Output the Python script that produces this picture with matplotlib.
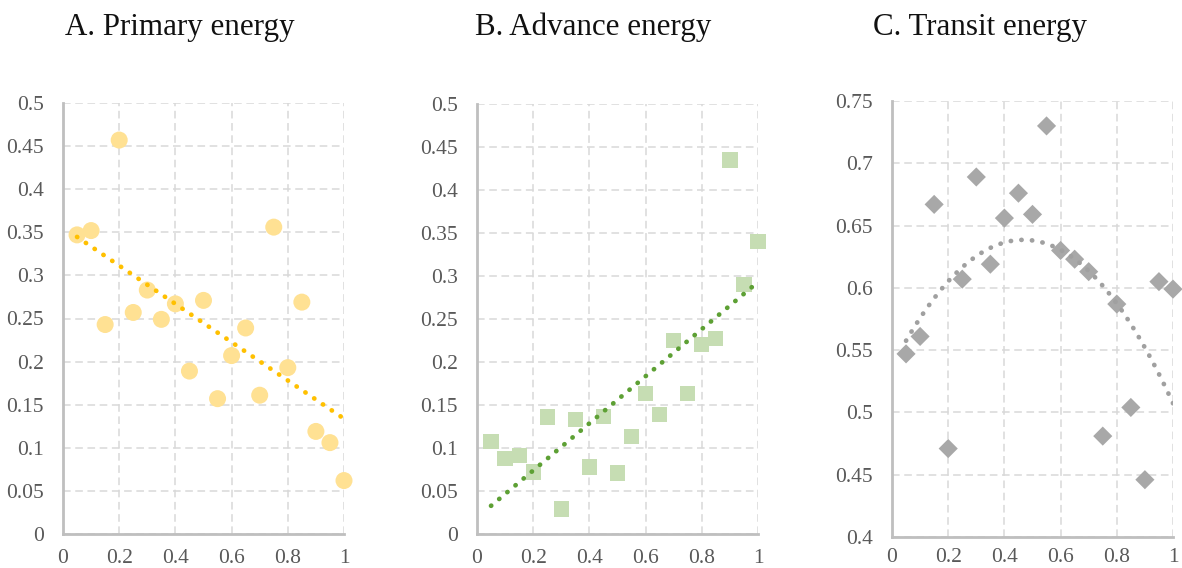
"""
Three scatter panels with Excel-style trendlines:
 A. Primary energy (linear), B. Advance energy (linear), C. Transit energy (poly 2)
"""
import numpy as np
import matplotlib
matplotlib.use("Agg")
import matplotlib.pyplot as plt

# ---------------------------------------------
# Data
# ---------------------------------------------
x_vals = [0.05, 0.10, 0.15, 0.20, 0.25, 0.30, 0.35, 0.40, 0.45, 0.50,
          0.55, 0.60, 0.65, 0.70, 0.75, 0.80, 0.85, 0.90, 0.95, 1.00]

primary = [0.347, 0.352, 0.243, 0.457, 0.257, 0.283, 0.249, 0.267, 0.189, 0.271,
           0.157, 0.207, 0.239, 0.161, 0.356, 0.193, 0.269, 0.119, 0.106, 0.062]

advance = [0.108, 0.088, 0.091, 0.072, 0.136, 0.029, 0.133, 0.078, 0.137, 0.071,
           0.113, 0.163, 0.139, 0.225, 0.163, 0.220, 0.227, 0.435, 0.290, 0.340]

transit = [0.547, 0.561, 0.667, 0.471, 0.607, 0.689, 0.619, 0.656, 0.676, 0.659,
           0.730, 0.630, 0.623, 0.613, 0.481, 0.587, 0.504, 0.446, 0.605, 0.599]

titles = ["A. Primary energy", "B. Advance energy", "C. Transit energy"]
x_ticks = [0, 0.2, 0.4, 0.6, 0.8, 1]
x_labels = ["0", "0.2", "0.4", "0.6", "0.8", "1"]
y_ticks_ab = [0, 0.05, 0.1, 0.15, 0.2, 0.25, 0.3, 0.35, 0.4, 0.45, 0.5]
y_labels_ab = ["0", "0.05", "0.1", "0.15", "0.2", "0.25", "0.3", "0.35", "0.4", "0.45", "0.5"]
y_ticks_c = [0.4, 0.45, 0.5, 0.55, 0.6, 0.65, 0.7, 0.75]
y_labels_c = ["0.4", "0.45", "0.5", "0.55", "0.6", "0.65", "0.7", "0.75"]

plt.rcParams['font.family'] = ['Liberation Serif', 'DejaVu Serif']

fig = plt.figure(figsize=(11.82, 5.68), dpi=100)

# axes boxes in pixels: left, right, top, bottom
W, H = 1182, 568
boxes = [(63, 344, 103, 534), (477, 758, 104, 534), (892, 1173, 101, 537)]
title_x = [180, 593, 980]
xpads = [11, 11, 8]

panels = [
    (primary, 'o', 150, '#FFE193', '#FFC000', 1, y_ticks_ab, y_labels_ab, (0, 0.5)),
    (advance, 's', 120, '#C6DDB3', '#5DA034', 1, y_ticks_ab, y_labels_ab, (0, 0.5)),
    (transit, 'D', 95, '#A8A8A8', '#A0A0A0', 2, y_ticks_c, y_labels_c, (0.4, 0.75)),
]

x = np.array(x_vals)
for i, (ys, mk, size, col, tcol, deg, yt, yl, ylim) in enumerate(panels):
    l, r, t, b = boxes[i]
    ax = fig.add_axes([l / W, 1 - b / H, (r - l) / W, (b - t) / H])
    ys = np.array(ys)

    ax.scatter(x, ys, marker=mk, s=size, color=col, edgecolors='none', zorder=3)

    # trendline fitted from the points, like Excel does
    coef = np.polyfit(x, ys, deg)
    xt = np.linspace(0.05, 1.0, 200)
    ax.plot(xt, np.polyval(coef, xt), color=tcol, lw=3.4,
            linestyle=(0, (0.05, 2.2)), dash_capstyle='round',
            solid_capstyle='round', zorder=4)

    ax.set_xlim(0, 1)
    ax.set_ylim(*ylim)
    ax.set_xticks(x_ticks)
    ax.set_xticklabels(x_labels)
    ax.set_yticks(yt)
    ax.set_yticklabels(yl)
    ax.tick_params(length=0, labelsize=15.5, colors='#595959')
    ax.tick_params(axis='x', pad=xpads[i])
    ax.tick_params(axis='y', pad=14)

    ax.grid(True, color='#D9D9D9', linestyle=(0, (5, 3)), lw=1.1, zorder=0)
    for s in ['top', 'right']:
        ax.spines[s].set_visible(False)
    for s in ['left', 'bottom']:
        ax.spines[s].set_color('#BFBFBF')
        ax.spines[s].set_linewidth(2)
    for c in ax.collections:
        c.set_clip_on(False)

    fig.text(title_x[i] / W, 1 - 27 / H, titles[i], ha='center', va='center',
             fontsize=22.3, color='#111111')

fig.savefig("out.png", dpi=100)
